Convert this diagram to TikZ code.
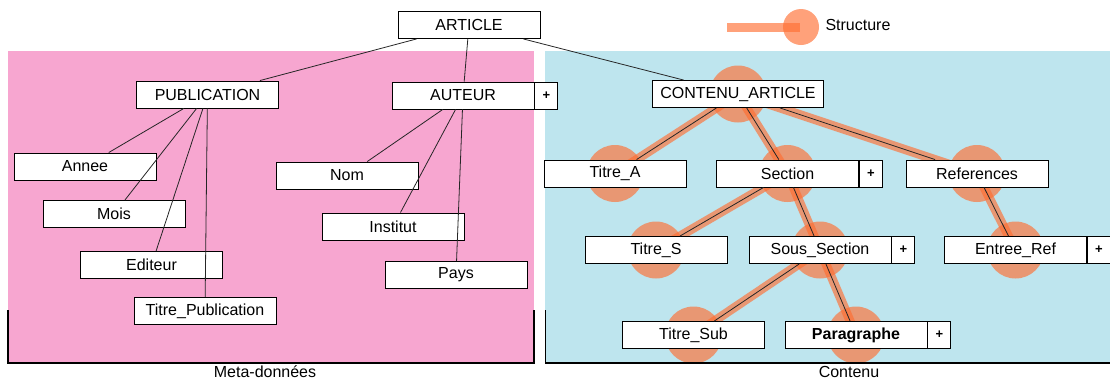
\documentclass[tikz,border=0pt]{standalone}
\usepackage{fontspec}
\setmainfont{Liberation Sans}
\usepackage{tikz}
\usetikzlibrary{positioning,backgrounds}
\usepackage{xcolor}
\definecolor{MetaPink}{RGB}{247,166,208}
\definecolor{ContBlue}{RGB}{190,229,238}
\definecolor{Struct}{RGB}{255,110,50}

\begin{document}
\begin{tikzpicture}[x=1pt, y=-1pt,
    box/.style={rectangle, draw=black, line width=0.9pt, fill=white,
        minimum width=142pt, minimum height=27pt, inner sep=0pt,
        font=\fontsize{16}{18}\selectfont},
    plusbox/.style={rectangle, draw=black, line width=0.9pt, fill=white,
        minimum width=23pt, minimum height=27pt, inner sep=0pt,
        font=\bfseries\fontsize{13}{14}\selectfont},
    link/.style={draw=black!85, line width=0.8pt},
    band/.style={draw=Struct, line width=9pt, opacity=0.65},
    blob/.style={fill=Struct, opacity=0.65},
    zone/.style={line width=1.1pt},
    lbl/.style={font=\fontsize{16}{18}\selectfont},
]
\useasboundingbox (0,0) rectangle (1110,381);

% root and legend
\node[box] (article) at (469,25) {ARTICLE};
\node[lbl, anchor=west] (legend) at (822,25) {Structure};

% meta-donnees
\node[box] (pub) at (207.5,94.5) {PUBLICATION};
\node[box] (auteur) at (463,95.5) {AUTEUR};
\node[plusbox, right=0pt of auteur] (auteurplus) {+};
\node[box] (annee) at (85,166.5) {Annee};
\node[box] (mois) at (114,214) {Mois};
\node[box] (editeur) at (151.5,265) {Editeur};
\node[box] (titrepub) at (205,311) {Titre\_Publication};
\node[box] (nom) at (347,175.5) {Nom};
\node[box] (institut) at (393,226.5) {Institut};
\node[box] (pays) at (456,275) {Pays};

% contenu
\node[box, minimum width=171pt] (contenu) at (738,94) {CONTENU\_ARTICLE};
\node[box] (titrea) at (615,173.5) {Titre\_A};
\node[box] (section) at (787.5,173.5) {Section};
\node[plusbox, right=0pt of section] (sectionplus) {+};
\node[box] (refs) at (977,173.5) {References};
\node[box] (titres) at (656,250) {Titre\_S};
\node[box] (soussec) at (820,250) {Sous\_Section};
\node[plusbox, right=0pt of soussec] (soussecplus) {+};
\node[box] (entree) at (1015.5,250) {Entree\_Ref};
\node[plusbox, right=0pt of entree] (entreeplus) {+};
\node[box] (titresub) at (693.5,335) {Titre\_Sub};
\node[box, font=\bfseries\fontsize{16}{18}\selectfont] (para) at (856,335) {Paragraphe};
\node[plusbox, right=0pt of para] (paraplus) {+};

\node[lbl] (metalbl) at (265,372) {Meta-donn\'ees};
\node[lbl] (contlbl) at (849,372) {Contenu};

\begin{scope}[on background layer]
    \fill[MetaPink] (8,51) rectangle (534,363);
    \fill[ContBlue] (545,51) rectangle (1110,363);
    % structure highlight
    \draw[band] (727,27) -- (800,27);
    \fill[blob] (801,27) circle (18);
    \foreach \n in {contenu,titrea,section,refs,titres,soussec,entree,titresub,para}
        \fill[blob] (\n.center) circle (28.5);
    \draw[band] (contenu.center) -- (titrea.center);
    \draw[band] (contenu.center) -- (section.center);
    \draw[band] (contenu.center) -- (refs.center);
    \draw[band] (section.center) -- (titres.center);
    \draw[band] (section.center) -- (soussec.center);
    \draw[band] (refs.center) -- (entree.center);
    \draw[band] (soussec.center) -- (titresub.center);
    \draw[band] (soussec.center) -- (para.center);
\end{scope}

\draw[zone] (8,310) |- (534,363) -- (534,310);
\draw[zone] (545.5,310) |- (1110,363);

\draw[link] (article) -- (pub);
\draw[link] (article) -- (auteur);
\draw[link] (article) -- (contenu);
\draw[link] (pub) -- (annee);
\draw[link] (pub) -- (mois);
\draw[link] (pub) -- (editeur);
\draw[link] (pub) -- (titrepub);
\draw[link] (auteur) -- (nom);
\draw[link] (auteur) -- (institut);
\draw[link] (auteur) -- (pays);
\draw[link] (contenu) -- (titrea);
\draw[link] (contenu) -- (section);
\draw[link] (contenu) -- (refs);
\draw[link] (section) -- (titres);
\draw[link] (section) -- (soussec);
\draw[link] (refs) -- (entree);
\draw[link] (soussec) -- (titresub);
\draw[link] (soussec) -- (para);
\end{tikzpicture}
\end{document}
